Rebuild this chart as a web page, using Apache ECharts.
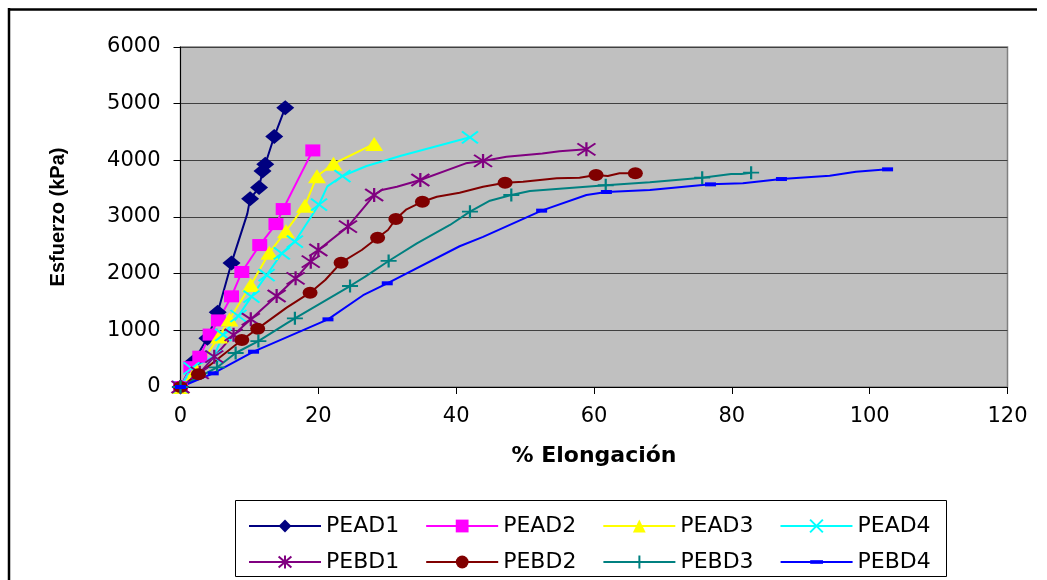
<!DOCTYPE html>
<html>
<head>
<meta charset="utf-8">
<title>Esfuerzo vs % Elongación</title>
<script src="https://cdn.jsdelivr.net/npm/echarts@6/dist/echarts.min.js"></script>
<style>
  html, body { margin: 0; padding: 0; background: #ffffff; }
  #chart { width: 1047px; height: 580px; }
</style>
</head>
<body>
<div id="chart"></div>
<script>
// Series names (legend order)
const seriesNames = ['PEAD1', 'PEAD2', 'PEAD3', 'PEAD4', 'PEBD1', 'PEBD2', 'PEBD3', 'PEBD4'];

// Axis ticks
const xTicks = [0, 20, 40, 60, 80, 100, 120];
const yTicks = [0, 1000, 2000, 3000, 4000, 5000, 6000];

// Measured readings (% elongación, esfuerzo kPa) — drawn with markers
const elongPEAD1 = [0, 1.9, 3.9, 5.4, 7.4, 10.1, 11.4, 11.9, 12.3, 13.6, 15.2];
const stressPEAD1 = [0, 450, 860, 1320, 2190, 3320, 3520, 3810, 3930, 4420, 4930];
const elongPEAD2 = [0, 1.5, 2.8, 4.3, 5.5, 7.4, 8.9, 11.5, 13.85, 14.9, 19.2];
const stressPEAD2 = [0, 350, 535, 925, 1175, 1600, 2030, 2505, 2875, 3140, 4175];
const elongPEAD3 = [0, 2.3, 5.6, 7.1, 10.2, 12.9, 15.3, 18.05, 19.8, 22.2, 28.1];
const stressPEAD3 = [0, 300, 890, 1190, 1800, 2370, 2750, 3200, 3720, 3940, 4290];
const elongPEAD4 = [0, 1.6, 4.8, 6.2, 8.4, 10.3, 12.5, 14.7, 16.6, 20.1, 23.5, 42.0];
const stressPEAD4 = [0, 330, 535, 918, 1253, 1594, 1976, 2359, 2564, 3220, 3723, 4406];
const elongPEBD1 = [0, 2.8, 4.9, 7.7, 10.2, 13.95, 16.7, 18.9, 20.0, 24.3, 28.1, 34.8, 43.9, 58.9];
const stressPEBD1 = [0, 250, 535, 920, 1195, 1606, 1918, 2212, 2418, 2830, 3388, 3653, 3990, 4194];
const elongPEBD2 = [0, 2.6, 8.9, 11.2, 18.8, 23.3, 28.6, 31.25, 35.1, 47.1, 60.3, 66.0];
const stressPEBD2 = [0, 225, 829, 1030, 1665, 2194, 2635, 2964, 3270, 3606, 3741, 3771];
const elongPEBD3 = [0, 5.3, 8.0, 11.3, 16.6, 24.6, 30.2, 42.0, 48.0, 61.7, 75.7, 82.8];
const stressPEBD3 = [0, 345, 600, 810, 1212, 1782, 2224, 3094, 3388, 3560, 3694, 3782];
const elongPEBD4 = [0, 4.75, 10.6, 21.4, 30.0, 52.4, 61.8, 76.9, 87.2, 102.6];
const stressPEBD4 = [0, 241, 623, 1194, 1830, 3112, 3441, 3576, 3670, 3841];

// Intermediate readings (no marker), part of the same curves
const midElongPEAD1 = [9.7];
const midStressPEAD1 = [3060];
const midElongPEAD2 = [];
const midStressPEAD2 = [];
const midElongPEAD3 = [];
const midStressPEAD3 = [];
const midElongPEAD4 = [21.3, 27.0, 32.0];
const midStressPEAD4 = [3540, 3900, 4080];
const midElongPEBD1 = [29.2, 31.4, 41.4, 47.3, 52.5, 55.0];
const midStressPEBD1 = [3476, 3535, 3947, 4064, 4120, 4160];
const midElongPEBD2 = [15.4, 21.0, 26.3, 30.1, 32.8, 37.2, 40.5, 43.9, 49.7, 54.6, 57.9, 62.0, 63.7];
const midStressPEBD2 = [1400, 1888, 2418, 2770, 3135, 3358, 3429, 3535, 3623, 3682, 3694, 3723, 3771];
const midElongPEBD3 = [15.4, 26.8, 34.3, 39.1, 44.9, 50.7, 68.1, 79.9, 81.4];
const midStressPEBD3 = [1123, 1947, 2536, 2859, 3288, 3459, 3612, 3759, 3759];
const midElongPEBD4 = [26.5, 40.5, 43.9, 58.9, 68.1, 81.6, 94.2, 98.0];
const midStressPEBD4 = [1620, 2484, 2649, 3388, 3476, 3594, 3729, 3800];

const measured = {
  PEAD1: [elongPEAD1, stressPEAD1, midElongPEAD1, midStressPEAD1],
  PEAD2: [elongPEAD2, stressPEAD2, midElongPEAD2, midStressPEAD2],
  PEAD3: [elongPEAD3, stressPEAD3, midElongPEAD3, midStressPEAD3],
  PEAD4: [elongPEAD4, stressPEAD4, midElongPEAD4, midStressPEAD4],
  PEBD1: [elongPEBD1, stressPEBD1, midElongPEBD1, midStressPEBD1],
  PEBD2: [elongPEBD2, stressPEBD2, midElongPEBD2, midStressPEBD2],
  PEBD3: [elongPEBD3, stressPEBD3, midElongPEBD3, midStressPEBD3],
  PEBD4: [elongPEBD4, stressPEBD4, midElongPEBD4, midStressPEBD4]
};

// Appearance of each curve. The dash marker path carries empty moveTo
// padding so that it keeps its flat shape inside the square legend icon.
const looks = {
  PEAD1: { color: '#000080', symbol: 'diamond', size: [18, 15], stroke: 0 },
  PEAD2: { color: '#FF00FF', symbol: 'rect', size: [15, 12], stroke: 0 },
  PEAD3: { color: '#FFFF00', symbol: 'triangle', size: [18, 14], stroke: 0 },
  PEAD4: { color: '#00FFFF', symbol: 'path://M0,0L16,12M16,0L0,12', size: [16, 12], stroke: 2 },
  PEBD1: { color: '#800080', symbol: 'path://M0,1L18,13M18,1L0,13M9,0L9,14', size: [18, 14], stroke: 2 },
  PEBD2: { color: '#800000', symbol: 'circle', size: [15, 12], stroke: 0 },
  PEBD3: { color: '#008080', symbol: 'path://M0,6.5L16,6.5M8,0L8,13', size: [16, 13], stroke: 2 },
  PEBD4: { color: '#0000FF', symbol: 'path://M0,0M0,5L11,5L11,9L0,9ZM11,14', size: [11, 14], stroke: 0 }
};

function buildPoints(name) {
  const [xs, ys, mx, my] = measured[name];
  const pts = xs.map((x, i) => ({ value: [x, ys[i]] }));
  mx.forEach((x, i) => pts.push({ value: [x, my[i]], symbol: 'none' }));
  pts.sort((a, b) => a.value[0] - b.value[0]);
  return pts;
}

const series = seriesNames.map(name => {
  const lk = looks[name];
  return {
    name: name,
    type: 'line',
    data: buildPoints(name),
    symbol: lk.symbol,
    symbolSize: lk.size,
    showAllSymbol: true,
    smooth: false,
    lineStyle: { color: lk.color, width: 2 },
    itemStyle: { color: lk.color, borderColor: lk.color, borderWidth: lk.stroke },
    emphasis: { disabled: true },
    animation: false
  };
});

const plain = v => String(v);
const tickFont = { fontFamily: 'DejaVu Sans', fontSize: 21, color: '#000', formatter: plain };
const legendText = { fontFamily: 'DejaVu Sans', fontSize: 22, color: '#000' };

const chart = echarts.init(document.getElementById('chart'), null, { renderer: 'canvas' });
chart.setOption({
  backgroundColor: '#ffffff',
  animation: false,
  grid: {
    left: 180.5, right: 39.5, top: 47, bottom: 193,
    show: true, backgroundColor: '#C0C0C0', borderColor: '#808080', borderWidth: 1.5
  },
  xAxis: {
    type: 'value', min: xTicks[0], max: xTicks[xTicks.length - 1], interval: 20,
    name: '% Elongación', nameLocation: 'middle', nameGap: 58,
    nameTextStyle: { fontFamily: 'DejaVu Sans', fontWeight: 'bold', fontSize: 22, color: '#000' },
    axisLine: { show: true, lineStyle: { color: '#000', width: 1 } },
    axisTick: { show: true, inside: false, length: 7, lineStyle: { color: '#000' } },
    axisLabel: Object.assign({ margin: 19 }, tickFont),
    splitLine: { show: false }
  },
  yAxis: {
    type: 'value', min: yTicks[0], max: yTicks[yTicks.length - 1], interval: 1000,
    name: 'Esfuerzo (kPa)', nameLocation: 'middle', nameGap: 112,
    nameTextStyle: { fontFamily: 'Liberation Sans', fontWeight: 'bold', fontSize: 20, color: '#000' },
    axisLine: { show: true, lineStyle: { color: '#000', width: 1 } },
    axisTick: { show: true, inside: false, length: 7, lineStyle: { color: '#000' } },
    axisLabel: Object.assign({ margin: 20 }, tickFont),
    splitLine: { show: true, lineStyle: { color: '#404040', width: 1 } }
  },
  legend: [
    {
      data: seriesNames.slice(0, 4), left: 243, top: 510, orient: 'horizontal',
      itemWidth: 72, itemHeight: 16, itemGap: 26, textStyle: legendText,
      selectedMode: false
    },
    {
      data: seriesNames.slice(4), left: 243, top: 546, orient: 'horizontal',
      itemWidth: 72, itemHeight: 16, itemGap: 26, textStyle: legendText,
      selectedMode: false
    }
  ],
  graphic: [
    { type: 'line', shape: { x1: 8, y1: 9.5, x2: 1037, y2: 9.5 }, style: { stroke: '#000', lineWidth: 2.5 }, silent: true },
    { type: 'line', shape: { x1: 9, y1: 8, x2: 9, y2: 580 }, style: { stroke: '#000', lineWidth: 2.5 }, silent: true },
    { type: 'rect', shape: { x: 235.5, y: 500.5, width: 711, height: 76 }, style: { fill: 'none', stroke: '#000', lineWidth: 1 }, silent: true, z: 0 }
  ],
  series: series
});
</script>
</body>
</html>
